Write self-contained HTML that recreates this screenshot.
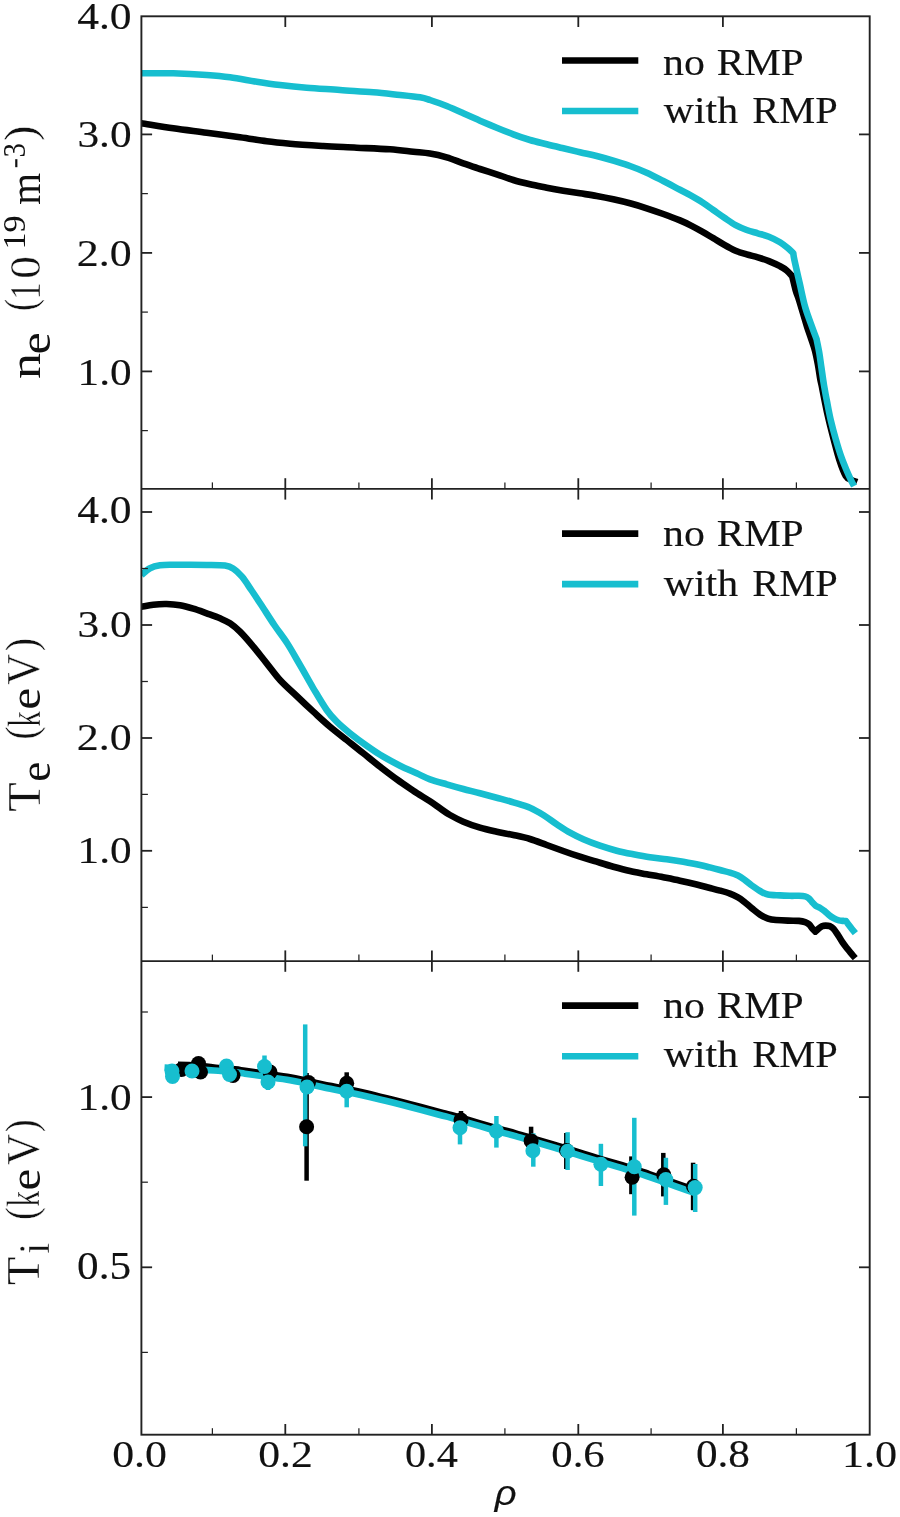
<!DOCTYPE html>
<html lang="en"><head><meta charset="utf-8"><title>Profiles</title>
<style>html,body{margin:0;padding:0;background:#fff}svg{display:block}</style></head>
<body>
<svg width="900" height="1517" viewBox="0 0 900 1517" role="img" aria-label="Radial profiles of ne, Te and Ti with and without RMP">
<rect width="900" height="1517" fill="#fff"/>
<defs><clipPath id="c1"><rect x="141.4" y="16.3" width="728.3000000000001" height="472.59999999999997"/></clipPath><clipPath id="c2"><rect x="141.4" y="488.9" width="728.3000000000001" height="472.20000000000005"/></clipPath></defs>
<path d="M141.4,123.3 C146.7,124.1 162.4,126.7 173.3,128.3 C184.2,129.9 195.6,131.2 206.7,132.7 C217.8,134.2 230.0,135.9 240.0,137.3 C250.0,138.7 258.4,140.2 266.7,141.3 C275.0,142.4 280.6,142.9 290.0,143.7 C299.4,144.5 312.2,145.3 323.3,146.0 C334.4,146.7 345.6,147.1 356.7,147.7 C367.8,148.2 380.6,148.6 390.0,149.3 C399.4,150.0 406.6,151.0 413.3,151.7 C420.0,152.4 424.4,152.6 430.0,153.5 C435.6,154.4 441.1,155.7 446.7,157.3 C452.2,158.9 457.8,161.4 463.3,163.3 C468.9,165.2 474.4,167.2 480.0,169.0 C485.6,170.8 491.1,172.5 496.7,174.3 C502.2,176.1 507.7,178.3 513.3,180.0 C518.8,181.7 524.4,183.0 530.0,184.3 C535.6,185.6 541.2,186.6 546.7,187.7 C552.2,188.8 557.8,189.8 563.3,190.7 C568.8,191.6 574.4,192.4 580.0,193.3 C585.6,194.2 591.2,195.0 596.7,196.0 C602.2,197.0 607.8,198.1 613.3,199.3 C618.8,200.5 624.4,201.8 630.0,203.3 C635.6,204.8 641.2,206.5 646.7,208.3 C652.2,210.1 657.8,212.0 663.3,214.0 C668.8,216.0 675.4,218.5 680.0,220.4 C684.6,222.3 687.4,223.7 691.1,225.6 C694.8,227.5 698.5,229.5 702.2,231.6 C705.9,233.7 709.6,236.0 713.3,238.2 C717.0,240.4 720.7,242.8 724.4,244.9 C728.1,247.0 731.9,249.1 735.6,250.7 C739.3,252.3 743.0,253.3 746.7,254.4 C750.4,255.5 754.1,256.2 757.8,257.3 C761.5,258.4 765.2,259.6 768.9,261.1 C772.6,262.6 777.0,264.6 780.0,266.2 C783.0,267.8 784.7,268.7 786.7,270.4 C788.7,272.1 791.3,275.2 792.2,276.2 C792.8,278.5 794.5,286.1 795.6,290.0 C796.7,293.9 797.6,295.7 798.9,299.6 C800.1,303.5 801.7,308.9 803.1,313.5 C804.5,318.1 805.9,323.1 807.2,327.3 C808.6,331.6 809.9,335.1 811.2,339.0 C812.5,342.9 813.8,346.3 814.9,350.5 C816.0,354.7 816.9,359.3 817.8,364.0 C818.7,368.7 819.6,375.3 820.2,378.8 C820.8,382.3 820.4,379.2 821.6,385.2 C822.8,391.2 825.6,406.0 827.6,414.9 C829.6,423.8 831.5,431.1 833.5,438.6 C835.5,446.1 837.4,453.8 839.4,460.0 C841.4,466.2 843.8,472.7 845.8,476.0 C847.8,479.3 849.3,478.8 851.2,479.8 C853.1,480.8 856.1,481.6 857.1,482.0" fill="none" stroke="#000000" stroke-width="6.6" stroke-linejoin="round" stroke-linecap="butt" clip-path="url(#c1)"/>
<path d="M141.4,73.3 C146.7,73.3 162.4,73.0 173.3,73.3 C184.2,73.6 197.2,74.3 206.7,75.0 C216.1,75.7 221.7,76.2 230.0,77.3 C238.3,78.4 248.4,80.4 256.7,81.7 C265.0,83.0 271.7,84.0 280.0,85.0 C288.3,86.0 296.7,86.9 306.7,87.7 C316.7,88.5 328.9,89.2 340.0,90.0 C351.1,90.8 363.3,91.5 373.3,92.3 C383.3,93.1 392.2,94.2 400.0,95.0 C407.8,95.8 415.0,96.5 420.0,97.3 C425.0,98.1 425.6,98.5 430.0,100.0 C434.4,101.5 441.1,103.8 446.7,106.0 C452.2,108.2 457.8,110.8 463.3,113.3 C468.9,115.8 474.4,118.3 480.0,120.7 C485.6,123.1 491.1,125.4 496.7,127.7 C502.2,130.0 507.7,132.2 513.3,134.3 C518.8,136.4 524.4,138.3 530.0,140.0 C535.6,141.7 541.2,142.9 546.7,144.3 C552.2,145.7 557.8,147.0 563.3,148.3 C568.8,149.6 574.4,151.0 580.0,152.3 C585.6,153.6 591.2,154.6 596.7,156.0 C602.2,157.4 607.8,159.0 613.3,160.7 C618.8,162.4 624.4,164.0 630.0,166.0 C635.6,168.0 641.2,170.2 646.7,172.7 C652.2,175.2 657.8,178.2 663.3,181.0 C668.8,183.8 675.4,187.4 680.0,189.8 C684.6,192.2 687.4,193.5 691.1,195.6 C694.8,197.7 698.5,199.8 702.2,202.2 C705.9,204.6 709.6,207.4 713.3,210.0 C717.0,212.6 720.7,215.3 724.4,217.8 C728.1,220.3 731.9,223.1 735.6,225.1 C739.3,227.1 743.0,228.6 746.7,230.0 C750.4,231.4 754.1,232.2 757.8,233.3 C761.5,234.4 765.2,235.2 768.9,236.7 C772.6,238.2 776.7,240.2 780.0,242.2 C783.3,244.2 786.7,247.1 788.9,248.9 C791.1,250.8 792.6,252.6 793.3,253.3 C793.5,254.4 793.3,254.9 794.4,260.0 C795.5,265.1 798.0,275.9 799.8,283.8 C801.6,291.7 803.2,300.2 805.3,307.5 C807.4,314.8 810.3,322.0 812.2,327.3 C814.1,332.6 815.9,337.2 816.6,339.2 C817.0,341.5 818.5,348.3 819.3,353.0 C820.1,357.7 820.6,362.1 821.4,367.5 C822.2,372.9 823.0,379.3 824.0,385.2 C825.0,391.1 826.1,397.1 827.3,403.0 C828.4,408.9 829.5,414.9 830.9,420.8 C832.3,426.7 833.9,432.7 835.6,438.6 C837.3,444.5 839.2,450.9 841.1,456.4 C843.0,461.9 845.6,467.9 847.2,471.8 C848.9,475.8 849.9,477.7 851.0,480.1 C852.1,482.5 853.6,485.1 854.1,486.1" fill="none" stroke="#17becf" stroke-width="6.6" stroke-linejoin="round" stroke-linecap="butt" clip-path="url(#c1)"/>
<path d="M141.4,606.7 C143.4,606.4 149.1,605.2 153.3,604.7 C157.5,604.2 162.2,603.9 166.7,604.0 C171.1,604.1 175.6,604.5 180.0,605.3 C184.4,606.1 188.9,607.4 193.3,608.7 C197.8,610.0 202.2,611.7 206.7,613.3 C211.1,614.9 216.1,616.6 220.0,618.3 C223.9,620.0 226.7,621.1 230.0,623.3 C233.3,625.5 236.1,627.8 240.0,631.7 C243.9,635.6 248.9,641.4 253.3,646.7 C257.8,652.0 262.2,657.8 266.7,663.3 C271.1,668.8 275.0,674.5 280.0,680.0 C285.0,685.5 291.1,690.7 296.7,696.0 C302.2,701.3 307.8,706.6 313.3,711.7 C318.9,716.8 324.4,722.0 330.0,726.7 C335.6,731.4 341.1,735.6 346.7,740.0 C352.2,744.4 357.8,748.8 363.3,753.3 C368.9,757.8 374.4,762.4 380.0,766.7 C385.6,771.0 391.1,775.3 396.7,779.3 C402.2,783.3 407.8,787.0 413.3,790.7 C418.9,794.4 425.6,798.4 430.0,801.3 C434.4,804.2 436.7,806.0 440.0,808.3 C443.3,810.6 446.1,812.8 450.0,815.0 C453.9,817.2 458.3,819.6 463.3,821.7 C468.3,823.8 474.4,826.0 480.0,827.7 C485.6,829.4 491.1,830.5 496.7,831.7 C502.2,832.9 507.7,833.8 513.3,835.0 C518.8,836.2 524.4,837.3 530.0,839.0 C535.6,840.7 541.2,843.0 546.7,845.0 C552.2,847.0 557.8,849.0 563.3,851.0 C568.8,853.0 574.4,854.9 580.0,856.7 C585.6,858.5 591.2,860.0 596.7,861.7 C602.2,863.4 607.8,865.2 613.3,866.7 C618.8,868.2 624.4,869.7 630.0,871.0 C635.6,872.3 641.2,873.2 646.7,874.3 C652.2,875.3 657.8,876.2 663.3,877.3 C668.8,878.4 674.4,879.5 680.0,880.7 C685.6,881.9 691.7,883.3 696.7,884.5 C701.7,885.7 706.1,887.0 710.0,888.0 C713.9,889.0 716.7,889.7 720.0,890.6 C723.3,891.5 727.0,892.5 730.0,893.6 C733.0,894.7 735.7,896.1 738.0,897.4 C740.3,898.7 741.7,899.8 744.0,901.6 C746.3,903.4 749.3,906.2 752.0,908.4 C754.7,910.6 757.3,912.9 760.0,914.6 C762.7,916.3 765.3,917.7 768.0,918.6 C770.7,919.5 772.7,919.7 776.0,920.0 C779.3,920.3 784.2,920.5 788.0,920.6 C791.8,920.8 796.0,920.6 798.9,920.9 C801.8,921.2 803.4,921.6 805.1,922.2 C806.8,922.8 807.9,923.4 809.1,924.4 C810.3,925.4 811.2,927.2 812.2,928.4 C813.2,929.6 814.8,931.1 815.3,931.6 C815.8,931.1 817.3,929.8 818.4,928.9 C819.5,928.0 820.8,926.8 822.0,926.2 C823.2,925.7 824.3,925.6 825.6,925.6 C826.9,925.6 828.7,925.7 830.0,926.2 C831.3,926.8 832.3,927.4 833.6,928.9 C834.9,930.4 836.5,932.9 838.0,935.1 C839.5,937.3 840.8,939.8 842.4,942.2 C844.0,944.6 846.2,947.2 847.8,949.3 C849.4,951.4 851.0,953.2 852.2,954.7 C853.5,956.2 854.8,957.6 855.3,958.2" fill="none" stroke="#000000" stroke-width="6.6" stroke-linejoin="round" stroke-linecap="butt" clip-path="url(#c2)"/>
<path d="M141.4,575.0 C142.8,573.9 146.9,569.9 150.0,568.3 C153.1,566.7 156.1,565.9 160.0,565.3 C163.9,564.7 165.5,564.8 173.3,564.7 C181.1,564.7 198.1,564.9 206.7,565.0 C215.3,565.1 220.5,565.0 225.0,565.6 C229.5,566.2 230.7,566.9 233.5,568.8 C236.3,570.6 239.0,573.2 242.0,576.7 C245.0,580.2 248.1,585.3 251.3,590.0 C254.5,594.7 257.5,599.2 261.3,605.0 C265.1,610.8 270.0,618.6 274.3,625.0 C278.6,631.4 282.9,636.6 287.2,643.3 C291.5,650.0 295.6,657.5 300.0,665.0 C304.4,672.5 308.9,680.8 313.3,688.3 C317.8,695.8 322.8,704.4 326.7,710.0 C330.6,715.6 332.8,717.8 336.7,721.7 C340.6,725.6 345.0,729.3 350.0,733.3 C355.0,737.3 361.1,741.8 366.7,745.7 C372.2,749.6 377.8,753.4 383.3,756.7 C388.9,760.0 394.4,762.9 400.0,765.7 C405.6,768.5 411.7,771.0 416.7,773.3 C421.7,775.6 425.0,777.5 430.0,779.3 C435.0,781.1 441.1,782.7 446.7,784.3 C452.2,785.9 457.8,787.5 463.3,789.0 C468.9,790.5 474.4,791.8 480.0,793.3 C485.6,794.8 491.1,796.2 496.7,797.7 C502.2,799.2 507.7,800.6 513.3,802.3 C518.8,804.0 525.0,805.6 530.0,807.7 C535.0,809.8 538.8,812.2 543.3,815.0 C547.8,817.8 552.2,821.3 556.7,824.3 C561.2,827.2 565.6,830.2 570.0,832.7 C574.4,835.2 578.3,837.1 583.3,839.3 C588.3,841.5 594.4,843.8 600.0,845.7 C605.6,847.6 611.2,849.3 616.7,850.7 C622.2,852.1 627.8,853.2 633.3,854.3 C638.8,855.4 644.4,856.5 650.0,857.3 C655.6,858.1 661.2,858.6 666.7,859.3 C672.2,860.0 677.8,860.8 683.3,861.7 C688.8,862.7 695.5,864.0 700.0,865.0 C704.5,866.0 706.7,866.6 710.0,867.4 C713.3,868.2 716.7,869.1 720.0,870.0 C723.3,870.9 727.0,871.7 730.0,872.6 C733.0,873.5 735.7,874.5 738.0,875.6 C740.3,876.7 741.7,877.7 744.0,879.4 C746.3,881.1 749.3,883.7 752.0,885.6 C754.7,887.5 757.3,889.5 760.0,891.0 C762.7,892.5 764.7,893.9 768.0,894.6 C771.3,895.3 776.3,895.2 780.0,895.4 C783.7,895.6 786.9,895.7 790.0,895.8 C793.1,895.9 796.4,895.7 798.9,895.8 C801.4,895.9 803.5,896.0 805.1,896.4 C806.7,896.8 807.5,897.2 808.7,898.2 C809.9,899.2 811.0,900.9 812.2,902.2 C813.4,903.5 814.5,904.8 815.8,905.8 C817.1,906.8 818.7,907.1 820.2,908.0 C821.7,908.9 823.2,909.9 824.7,911.1 C826.2,912.3 827.6,913.9 829.1,915.1 C830.6,916.3 832.0,917.3 833.6,918.2 C835.2,919.1 837.3,920.0 838.9,920.4 C840.5,920.8 842.1,920.8 843.3,920.9 C844.5,921.0 845.5,921.1 846.0,921.1 C846.7,922.1 848.9,925.1 850.4,927.1 C851.9,929.1 854.5,932.2 855.3,933.2" fill="none" stroke="#17becf" stroke-width="6.6" stroke-linejoin="round" stroke-linecap="butt" clip-path="url(#c2)"/>
<line x1="306.6" y1="1073" x2="306.6" y2="1180.7" stroke="#000000" stroke-width="4.5"/>
<line x1="346.7" y1="1072.3" x2="346.7" y2="1094.3" stroke="#000000" stroke-width="4.5"/>
<line x1="461" y1="1111" x2="461" y2="1129" stroke="#000000" stroke-width="4.5"/>
<line x1="531.1" y1="1126.7" x2="531.1" y2="1155" stroke="#000000" stroke-width="4.5"/>
<line x1="566.3" y1="1133" x2="566.3" y2="1169" stroke="#000000" stroke-width="4.5"/>
<line x1="631.4" y1="1156.4" x2="631.4" y2="1194.2" stroke="#000000" stroke-width="4.5"/>
<line x1="663.3" y1="1152.9" x2="663.3" y2="1196.4" stroke="#000000" stroke-width="4.5"/>
<line x1="693.1" y1="1162.7" x2="693.1" y2="1210.2" stroke="#000000" stroke-width="4.5"/>
<line x1="264.5" y1="1055.5" x2="264.5" y2="1077" stroke="#17becf" stroke-width="4.5"/>
<line x1="268" y1="1074" x2="268" y2="1090" stroke="#17becf" stroke-width="4.5"/>
<line x1="305.2" y1="1024.4" x2="305.2" y2="1146.3" stroke="#17becf" stroke-width="4.5"/>
<line x1="346.7" y1="1084" x2="346.7" y2="1107.3" stroke="#17becf" stroke-width="4.5"/>
<line x1="460" y1="1120" x2="460" y2="1144.4" stroke="#17becf" stroke-width="4.5"/>
<line x1="496.4" y1="1116" x2="496.4" y2="1147.6" stroke="#17becf" stroke-width="4.5"/>
<line x1="533.3" y1="1133.3" x2="533.3" y2="1166.7" stroke="#17becf" stroke-width="4.5"/>
<line x1="567.6" y1="1132.2" x2="567.6" y2="1170" stroke="#17becf" stroke-width="4.5"/>
<line x1="600.9" y1="1143.8" x2="600.9" y2="1186" stroke="#17becf" stroke-width="4.5"/>
<line x1="634.3" y1="1117.8" x2="634.3" y2="1215.6" stroke="#17becf" stroke-width="4.5"/>
<line x1="665.9" y1="1157.8" x2="665.9" y2="1204.9" stroke="#17becf" stroke-width="4.5"/>
<line x1="695.2" y1="1164" x2="695.2" y2="1212" stroke="#17becf" stroke-width="4.5"/>
<path d="M178.0,1064.8 C179.7,1064.8 184.3,1064.8 188.0,1065.0 C191.7,1065.2 195.7,1065.4 200.0,1065.8 C204.3,1066.2 208.2,1067.0 214.0,1067.6 C219.8,1068.2 229.8,1068.9 235.0,1069.4 C240.2,1069.9 240.0,1070.1 245.0,1070.8 C250.0,1071.5 257.5,1072.5 265.0,1073.6 C272.5,1074.7 283.3,1076.2 290.0,1077.3 C296.7,1078.4 299.5,1079.2 305.0,1080.4 C310.5,1081.6 316.1,1082.9 323.0,1084.4 C329.9,1085.8 337.2,1087.1 346.7,1089.1 C356.2,1091.1 369.4,1094.1 380.0,1096.6 C390.6,1099.1 400.0,1101.5 410.0,1104.1 C420.0,1106.7 433.2,1110.3 440.0,1112.1 C446.8,1113.9 444.3,1113.0 451.0,1114.9 C457.7,1116.8 472.6,1121.1 480.0,1123.3 C487.4,1125.5 489.7,1126.2 495.6,1127.9 C501.5,1129.6 509.0,1131.4 515.6,1133.3 C522.2,1135.2 528.3,1137.1 535.0,1139.1 C541.7,1141.1 550.3,1143.5 555.6,1145.1 C560.9,1146.7 562.0,1147.0 566.7,1148.5 C571.4,1150.0 578.5,1152.3 584.0,1154.0 C589.5,1155.7 594.5,1157.2 600.0,1158.8 C605.5,1160.4 611.2,1162.0 616.9,1163.7 C622.6,1165.4 628.6,1167.2 634.0,1168.9 C639.4,1170.6 643.8,1172.2 649.0,1174.0 C654.2,1175.8 659.8,1177.8 665.0,1179.6 C670.2,1181.4 675.4,1183.3 680.1,1184.9 C684.8,1186.5 691.2,1188.7 693.4,1189.4" fill="none" stroke="#000000" stroke-width="6.6" stroke-linejoin="round" stroke-linecap="butt"/>
<path d="M164.5,1067.5 C166.1,1067.6 170.9,1068.0 174.0,1068.3 C177.1,1068.6 178.7,1069.0 183.0,1069.2 C187.3,1069.5 194.8,1069.6 200.0,1069.8 C205.2,1070.0 208.2,1070.1 214.0,1070.5 C219.8,1070.9 229.8,1071.8 235.0,1072.3 C240.2,1072.8 240.0,1073.0 245.0,1073.7 C250.0,1074.4 257.5,1075.4 265.0,1076.5 C272.5,1077.6 283.3,1079.1 290.0,1080.2 C296.7,1081.3 299.5,1082.1 305.0,1083.3 C310.5,1084.5 316.1,1085.8 323.0,1087.3 C329.9,1088.8 337.2,1090.0 346.7,1092.0 C356.2,1094.0 369.4,1097.0 380.0,1099.5 C390.6,1102.0 400.0,1104.4 410.0,1107.0 C420.0,1109.6 433.2,1113.2 440.0,1115.0 C446.8,1116.8 444.3,1115.9 451.0,1117.8 C457.7,1119.7 472.6,1124.0 480.0,1126.2 C487.4,1128.4 489.7,1129.1 495.6,1130.8 C501.5,1132.5 509.0,1134.3 515.6,1136.2 C522.2,1138.1 528.3,1140.0 535.0,1142.0 C541.7,1144.0 550.3,1146.4 555.6,1148.0 C560.9,1149.6 562.0,1149.9 566.7,1151.4 C571.4,1152.9 578.5,1155.2 584.0,1156.9 C589.5,1158.6 594.5,1160.1 600.0,1161.7 C605.5,1163.3 611.2,1164.9 616.9,1166.6 C622.6,1168.3 628.6,1170.1 634.0,1171.8 C639.4,1173.5 643.8,1175.1 649.0,1176.9 C654.2,1178.7 659.8,1180.7 665.0,1182.5 C670.2,1184.3 675.1,1186.0 680.1,1187.8 C685.1,1189.6 692.7,1192.3 695.2,1193.2" fill="none" stroke="#17becf" stroke-width="6.6" stroke-linejoin="round" stroke-linecap="butt"/>
<circle cx="181.5" cy="1069.5" r="7.5" fill="#000000"/>
<circle cx="198.5" cy="1063.5" r="7.5" fill="#000000"/>
<circle cx="200.5" cy="1072" r="7.5" fill="#000000"/>
<circle cx="233" cy="1075.5" r="7.5" fill="#000000"/>
<circle cx="270" cy="1072" r="7.5" fill="#000000"/>
<circle cx="308.5" cy="1082.5" r="7.5" fill="#000000"/>
<circle cx="306.6" cy="1126.7" r="7.5" fill="#000000"/>
<circle cx="346.7" cy="1083.3" r="7.5" fill="#000000"/>
<circle cx="461" cy="1120" r="7.5" fill="#000000"/>
<circle cx="531.1" cy="1140.9" r="7.5" fill="#000000"/>
<circle cx="566.5" cy="1150.5" r="7.5" fill="#000000"/>
<circle cx="632.1" cy="1177.3" r="7.5" fill="#000000"/>
<circle cx="663.7" cy="1174.7" r="7.5" fill="#000000"/>
<circle cx="693.4" cy="1186.2" r="7.5" fill="#000000"/>
<circle cx="172" cy="1071" r="7.5" fill="#17becf"/>
<circle cx="172.5" cy="1076.5" r="7.5" fill="#17becf"/>
<circle cx="192" cy="1071" r="7.5" fill="#17becf"/>
<circle cx="226.5" cy="1066" r="7.5" fill="#17becf"/>
<circle cx="229.5" cy="1074.5" r="7.5" fill="#17becf"/>
<circle cx="264.5" cy="1066.5" r="7.5" fill="#17becf"/>
<circle cx="268" cy="1082" r="7.5" fill="#17becf"/>
<circle cx="307" cy="1087" r="7.5" fill="#17becf"/>
<circle cx="346.7" cy="1091.3" r="7.5" fill="#17becf"/>
<circle cx="460" cy="1127.8" r="7.5" fill="#17becf"/>
<circle cx="496.4" cy="1131.1" r="7.5" fill="#17becf"/>
<circle cx="532.9" cy="1150.7" r="7.5" fill="#17becf"/>
<circle cx="567.6" cy="1151.3" r="7.5" fill="#17becf"/>
<circle cx="600.9" cy="1164.2" r="7.5" fill="#17becf"/>
<circle cx="634.3" cy="1166.7" r="7.5" fill="#17becf"/>
<circle cx="665.9" cy="1179.6" r="7.5" fill="#17becf"/>
<circle cx="695.2" cy="1187.6" r="7.5" fill="#17becf"/>
<g stroke="#222222" fill="none" stroke-linecap="butt">
<rect x="141.4" y="16.3" width="728.3" height="1418.4" stroke-width="1.9"/>
<line x1="141.4" y1="488.9" x2="869.7" y2="488.9" stroke-width="1.9"/>
<line x1="141.4" y1="961.1" x2="869.7" y2="961.1" stroke-width="1.9"/>
<line x1="212.4" y1="482.4" x2="212.4" y2="488.9" stroke-width="1.25"/>
<line x1="212.4" y1="954.6" x2="212.4" y2="961.1" stroke-width="1.25"/>
<line x1="212.4" y1="1428.2" x2="212.4" y2="1434.7" stroke-width="1.25"/>
<line x1="285.3" y1="16.3" x2="285.3" y2="27.0" stroke-width="1.8"/>
<line x1="285.3" y1="478.2" x2="285.3" y2="499.59999999999997" stroke-width="1.8"/>
<line x1="285.3" y1="950.4" x2="285.3" y2="971.8000000000001" stroke-width="1.8"/>
<line x1="285.3" y1="1424.0" x2="285.3" y2="1434.7" stroke-width="1.8"/>
<line x1="358.9" y1="482.4" x2="358.9" y2="488.9" stroke-width="1.25"/>
<line x1="358.9" y1="954.6" x2="358.9" y2="961.1" stroke-width="1.25"/>
<line x1="358.9" y1="1428.2" x2="358.9" y2="1434.7" stroke-width="1.25"/>
<line x1="431.9" y1="16.3" x2="431.9" y2="27.0" stroke-width="1.8"/>
<line x1="431.9" y1="478.2" x2="431.9" y2="499.59999999999997" stroke-width="1.8"/>
<line x1="431.9" y1="950.4" x2="431.9" y2="971.8000000000001" stroke-width="1.8"/>
<line x1="431.9" y1="1424.0" x2="431.9" y2="1434.7" stroke-width="1.8"/>
<line x1="504.9" y1="482.4" x2="504.9" y2="488.9" stroke-width="1.25"/>
<line x1="504.9" y1="954.6" x2="504.9" y2="961.1" stroke-width="1.25"/>
<line x1="504.9" y1="1428.2" x2="504.9" y2="1434.7" stroke-width="1.25"/>
<line x1="578.3" y1="16.3" x2="578.3" y2="27.0" stroke-width="1.8"/>
<line x1="578.3" y1="478.2" x2="578.3" y2="499.59999999999997" stroke-width="1.8"/>
<line x1="578.3" y1="950.4" x2="578.3" y2="971.8000000000001" stroke-width="1.8"/>
<line x1="578.3" y1="1424.0" x2="578.3" y2="1434.7" stroke-width="1.8"/>
<line x1="651.1" y1="482.4" x2="651.1" y2="488.9" stroke-width="1.25"/>
<line x1="651.1" y1="954.6" x2="651.1" y2="961.1" stroke-width="1.25"/>
<line x1="651.1" y1="1428.2" x2="651.1" y2="1434.7" stroke-width="1.25"/>
<line x1="722.9" y1="16.3" x2="722.9" y2="27.0" stroke-width="1.8"/>
<line x1="722.9" y1="478.2" x2="722.9" y2="499.59999999999997" stroke-width="1.8"/>
<line x1="722.9" y1="950.4" x2="722.9" y2="971.8000000000001" stroke-width="1.8"/>
<line x1="722.9" y1="1424.0" x2="722.9" y2="1434.7" stroke-width="1.8"/>
<line x1="796.4" y1="482.4" x2="796.4" y2="488.9" stroke-width="1.25"/>
<line x1="796.4" y1="954.6" x2="796.4" y2="961.1" stroke-width="1.25"/>
<line x1="796.4" y1="1428.2" x2="796.4" y2="1434.7" stroke-width="1.25"/>
<line x1="141.4" y1="134.4" x2="152.1" y2="134.4" stroke-width="1.8"/>
<line x1="859.0" y1="134.4" x2="869.7" y2="134.4" stroke-width="1.8"/>
<line x1="141.4" y1="252.9" x2="152.1" y2="252.9" stroke-width="1.8"/>
<line x1="859.0" y1="252.9" x2="869.7" y2="252.9" stroke-width="1.8"/>
<line x1="141.4" y1="371.4" x2="152.1" y2="371.4" stroke-width="1.8"/>
<line x1="859.0" y1="371.4" x2="869.7" y2="371.4" stroke-width="1.8"/>
<line x1="141.4" y1="512.0" x2="152.1" y2="512.0" stroke-width="1.8"/>
<line x1="859.0" y1="512.0" x2="869.7" y2="512.0" stroke-width="1.8"/>
<line x1="141.4" y1="625.0" x2="152.1" y2="625.0" stroke-width="1.8"/>
<line x1="859.0" y1="625.0" x2="869.7" y2="625.0" stroke-width="1.8"/>
<line x1="141.4" y1="738.0" x2="152.1" y2="738.0" stroke-width="1.8"/>
<line x1="859.0" y1="738.0" x2="869.7" y2="738.0" stroke-width="1.8"/>
<line x1="141.4" y1="850.8" x2="152.1" y2="850.8" stroke-width="1.8"/>
<line x1="859.0" y1="850.8" x2="869.7" y2="850.8" stroke-width="1.8"/>
<line x1="141.4" y1="1097.1" x2="152.1" y2="1097.1" stroke-width="1.8"/>
<line x1="859.0" y1="1097.1" x2="869.7" y2="1097.1" stroke-width="1.8"/>
<line x1="141.4" y1="1267.3" x2="152.1" y2="1267.3" stroke-width="1.8"/>
<line x1="859.0" y1="1267.3" x2="869.7" y2="1267.3" stroke-width="1.8"/>
<line x1="141.4" y1="193.6" x2="147.9" y2="193.6" stroke-width="1.25"/>
<line x1="141.4" y1="312.1" x2="147.9" y2="312.1" stroke-width="1.25"/>
<line x1="141.4" y1="430.6" x2="147.9" y2="430.6" stroke-width="1.25"/>
<line x1="141.4" y1="568.5" x2="147.9" y2="568.5" stroke-width="1.25"/>
<line x1="141.4" y1="681.5" x2="147.9" y2="681.5" stroke-width="1.25"/>
<line x1="141.4" y1="794.4" x2="147.9" y2="794.4" stroke-width="1.25"/>
<line x1="141.4" y1="907.4" x2="147.9" y2="907.4" stroke-width="1.25"/>
<line x1="141.4" y1="1012.0" x2="147.9" y2="1012.0" stroke-width="1.25"/>
<line x1="141.4" y1="1182.2" x2="147.9" y2="1182.2" stroke-width="1.25"/>
<line x1="141.4" y1="1352.4" x2="147.9" y2="1352.4" stroke-width="1.25"/>
</g>
<g opacity="0.999"><!--TEXTGROUP-->
<text transform="translate(77.18,28.87) scale(1.0890,0.9709)" font-family="'Liberation Serif', serif" font-size="40" fill="#111111" stroke="#111111" stroke-width="0.15">4.0</text>
<text transform="translate(77.40,147.27) scale(1.0845,0.9709)" font-family="'Liberation Serif', serif" font-size="40" fill="#111111" stroke="#111111" stroke-width="0.15">3.0</text>
<text transform="translate(76.78,265.97) scale(1.0973,0.9709)" font-family="'Liberation Serif', serif" font-size="40" fill="#111111" stroke="#111111" stroke-width="0.15">2.0</text>
<text transform="translate(77.51,384.57) scale(1.0822,0.9673)" font-family="'Liberation Serif', serif" font-size="40" fill="#111111" stroke="#111111" stroke-width="0.15">1.0</text>
<text transform="translate(77.18,523.07) scale(1.0890,0.9782)" font-family="'Liberation Serif', serif" font-size="40" fill="#111111" stroke="#111111" stroke-width="0.15">4.0</text>
<text transform="translate(77.40,636.97) scale(1.0845,0.9709)" font-family="'Liberation Serif', serif" font-size="40" fill="#111111" stroke="#111111" stroke-width="0.15">3.0</text>
<text transform="translate(76.78,750.27) scale(1.0973,0.9709)" font-family="'Liberation Serif', serif" font-size="40" fill="#111111" stroke="#111111" stroke-width="0.15">2.0</text>
<text transform="translate(77.51,863.17) scale(1.0822,0.9673)" font-family="'Liberation Serif', serif" font-size="40" fill="#111111" stroke="#111111" stroke-width="0.15">1.0</text>
<text transform="translate(77.51,1110.27) scale(1.0822,0.9673)" font-family="'Liberation Serif', serif" font-size="40" fill="#111111" stroke="#111111" stroke-width="0.15">1.0</text>
<text transform="translate(77.08,1279.26) scale(1.0809,0.9818)" font-family="'Liberation Serif', serif" font-size="40" fill="#111111" stroke="#111111" stroke-width="0.15">0.5</text>
<text transform="translate(112.16,1466.77) scale(1.0957,0.9745)" font-family="'Liberation Serif', serif" font-size="40" fill="#111111" stroke="#111111" stroke-width="0.15">0.0</text>
<text transform="translate(258.26,1466.77) scale(1.0925,0.9745)" font-family="'Liberation Serif', serif" font-size="40" fill="#111111" stroke="#111111" stroke-width="0.15">0.2</text>
<text transform="translate(404.91,1466.77) scale(1.0583,0.9745)" font-family="'Liberation Serif', serif" font-size="40" fill="#111111" stroke="#111111" stroke-width="0.15">0.4</text>
<text transform="translate(551.30,1466.77) scale(1.0695,0.9745)" font-family="'Liberation Serif', serif" font-size="40" fill="#111111" stroke="#111111" stroke-width="0.15">0.6</text>
<text transform="translate(695.88,1466.77) scale(1.0809,0.9745)" font-family="'Liberation Serif', serif" font-size="40" fill="#111111" stroke="#111111" stroke-width="0.15">0.8</text>
<text transform="translate(841.93,1466.77) scale(1.1067,0.9745)" font-family="'Liberation Serif', serif" font-size="40" fill="#111111" stroke="#111111" stroke-width="0.15">1.0</text>
<text transform="translate(663.02,74.52) scale(1.0464,0.9692)" font-family="'Liberation Serif', serif" font-size="40" fill="#111111" stroke="#111111" stroke-width="0.15">no</text>
<text transform="translate(716.77,74.60) scale(1.0293,0.9333)" font-family="'Liberation Serif', serif" font-size="40" fill="#111111" stroke="#111111" stroke-width="0.15">RMP</text>
<text transform="translate(663.80,122.72) scale(1.0459,0.9593)" font-family="'Liberation Serif', serif" font-size="40" fill="#111111" stroke="#111111" stroke-width="0.15">with</text>
<text transform="translate(752.29,122.80) scale(1.0110,0.9333)" font-family="'Liberation Serif', serif" font-size="40" fill="#111111" stroke="#111111" stroke-width="0.15">RMP</text>
<text transform="translate(663.02,546.32) scale(1.0464,0.9692)" font-family="'Liberation Serif', serif" font-size="40" fill="#111111" stroke="#111111" stroke-width="0.15">no</text>
<text transform="translate(716.77,546.40) scale(1.0293,0.9333)" font-family="'Liberation Serif', serif" font-size="40" fill="#111111" stroke="#111111" stroke-width="0.15">RMP</text>
<text transform="translate(663.80,595.52) scale(1.0459,0.9593)" font-family="'Liberation Serif', serif" font-size="40" fill="#111111" stroke="#111111" stroke-width="0.15">with</text>
<text transform="translate(752.29,595.60) scale(1.0110,0.9333)" font-family="'Liberation Serif', serif" font-size="40" fill="#111111" stroke="#111111" stroke-width="0.15">RMP</text>
<text transform="translate(663.02,1018.32) scale(1.0464,0.9692)" font-family="'Liberation Serif', serif" font-size="40" fill="#111111" stroke="#111111" stroke-width="0.15">no</text>
<text transform="translate(716.77,1018.40) scale(1.0293,0.9333)" font-family="'Liberation Serif', serif" font-size="40" fill="#111111" stroke="#111111" stroke-width="0.15">RMP</text>
<text transform="translate(663.80,1067.12) scale(1.0459,0.9593)" font-family="'Liberation Serif', serif" font-size="40" fill="#111111" stroke="#111111" stroke-width="0.15">with</text>
<text transform="translate(752.29,1067.20) scale(1.0110,0.9333)" font-family="'Liberation Serif', serif" font-size="40" fill="#111111" stroke="#111111" stroke-width="0.15">RMP</text>
<text transform="translate(494.85,1505.23) scale(0.9538,0.8900)" font-family="'Liberation Sans', sans-serif" font-size="40" font-style="italic" fill="#111111" stroke="#111111" stroke-width="0.15">ρ</text>
<text transform="translate(39.90,378.90) rotate(-90) scale(1.2973,1.0933)" font-family="'Liberation Serif', serif" font-size="40" fill="#111111" stroke="#ffffff" stroke-width="0">n</text>
<text transform="translate(49.62,354.57) rotate(-90) scale(1.2475,1.1211)" font-family="'Liberation Serif', serif" font-size="40" fill="#111111" stroke="#ffffff" stroke-width="0">e</text>
<text transform="translate(34.99,310.89) rotate(-90) scale(0.9073,1.0952)" font-family="'Liberation Serif', serif" font-size="40" fill="#111111" stroke="#ffffff" stroke-width="0.38">(</text>
<text transform="translate(39.70,299.40) rotate(-90) scale(0.8571,1.1238)" font-family="'Liberation Serif', serif" font-size="40" fill="#111111" stroke="#ffffff" stroke-width="0.38">1</text>
<text transform="translate(39.72,278.70) rotate(-90) scale(1.1353,1.1327)" font-family="'Liberation Serif', serif" font-size="40" fill="#111111" stroke="#ffffff" stroke-width="0.38">0</text>
<text transform="translate(24.90,249.58) rotate(-90) scale(0.8518,0.8000)" font-family="'Liberation Serif', serif" font-size="40" fill="#111111" stroke="#ffffff" stroke-width="0">19</text>
<text transform="translate(39.70,204.87) rotate(-90) scale(1.0218,1.0827)" font-family="'Liberation Serif', serif" font-size="40" fill="#111111" stroke="#ffffff" stroke-width="0">m</text>
<text transform="translate(24.90,157.44) rotate(-90) scale(0.7212,0.8000)" font-family="'Liberation Serif', serif" font-size="40" fill="#111111" stroke="#ffffff" stroke-width="0">3</text>
<text transform="translate(34.99,140.96) rotate(-90) scale(1.1707,1.0952)" font-family="'Liberation Serif', serif" font-size="40" fill="#111111" stroke="#ffffff" stroke-width="0.38">)</text>
<text transform="translate(39.60,811.70) rotate(-90) scale(1.2043,1.1771)" font-family="'Liberation Serif', serif" font-size="40" fill="#111111" stroke="#ffffff" stroke-width="0.38">T</text>
<text transform="translate(49.83,781.70) rotate(-90) scale(1.1322,1.0947)" font-family="'Liberation Serif', serif" font-size="40" fill="#111111" stroke="#ffffff" stroke-width="0">e</text>
<text transform="translate(35.81,739.76) rotate(-90) scale(1.0049,1.0924)" font-family="'Liberation Serif', serif" font-size="40" fill="#111111" stroke="#ffffff" stroke-width="0.38">(</text>
<text transform="translate(39.60,726.68) rotate(-90) scale(0.7792,1.1568)" font-family="'Liberation Serif', serif" font-size="40" fill="#111111" stroke="#ffffff" stroke-width="0.38">k</text>
<text transform="translate(39.72,709.75) rotate(-90) scale(1.2339,1.1053)" font-family="'Liberation Serif', serif" font-size="40" fill="#111111" stroke="#ffffff" stroke-width="0">e</text>
<text transform="translate(39.22,684.64) rotate(-90) scale(1.0750,1.1626)" font-family="'Liberation Serif', serif" font-size="40" fill="#111111" stroke="#ffffff" stroke-width="0.38">V</text>
<text transform="translate(35.81,651.36) rotate(-90) scale(1.0049,1.0924)" font-family="'Liberation Serif', serif" font-size="40" fill="#111111" stroke="#ffffff" stroke-width="0.38">)</text>
<text transform="translate(39.40,1284.96) rotate(-90) scale(1.1522,1.1543)" font-family="'Liberation Serif', serif" font-size="40" fill="#111111" stroke="#ffffff" stroke-width="0.38">T</text>
<text transform="translate(49.20,1253.72) rotate(-90) scale(0.9579,1.1132)" font-family="'Liberation Serif', serif" font-size="40" fill="#111111" stroke="#ffffff" stroke-width="0.38">i</text>
<text transform="translate(35.81,1219.89) rotate(-90) scale(0.9659,1.0924)" font-family="'Liberation Serif', serif" font-size="40" fill="#111111" stroke="#ffffff" stroke-width="0.38">(</text>
<text transform="translate(39.40,1206.69) rotate(-90) scale(0.7896,1.1495)" font-family="'Liberation Serif', serif" font-size="40" fill="#111111" stroke="#ffffff" stroke-width="0.38">k</text>
<text transform="translate(39.62,1190.44) rotate(-90) scale(1.2271,1.1000)" font-family="'Liberation Serif', serif" font-size="40" fill="#111111" stroke="#ffffff" stroke-width="0">e</text>
<text transform="translate(39.02,1164.94) rotate(-90) scale(1.0821,1.1551)" font-family="'Liberation Serif', serif" font-size="40" fill="#111111" stroke="#ffffff" stroke-width="0.38">V</text>
<text transform="translate(35.81,1132.31) rotate(-90) scale(0.9659,1.0924)" font-family="'Liberation Serif', serif" font-size="40" fill="#111111" stroke="#ffffff" stroke-width="0.38">)</text>
</g>
<rect x="15.2" y="159.2" width="2.2" height="8.0" fill="#111111"/>
<line x1="562.0" y1="60.5" x2="638.3" y2="60.5" stroke="#000000" stroke-width="6.6"/>
<line x1="562.0" y1="111.0" x2="638.3" y2="111.0" stroke="#17becf" stroke-width="6.6"/>
<line x1="562.0" y1="533.6" x2="638.3" y2="533.6" stroke="#000000" stroke-width="6.6"/>
<line x1="562.0" y1="584.1" x2="638.3" y2="584.1" stroke="#17becf" stroke-width="6.6"/>
<line x1="562.0" y1="1005.6" x2="638.3" y2="1005.6" stroke="#000000" stroke-width="6.6"/>
<line x1="562.0" y1="1056.2" x2="638.3" y2="1056.2" stroke="#17becf" stroke-width="6.6"/>
</svg>
</body></html>
